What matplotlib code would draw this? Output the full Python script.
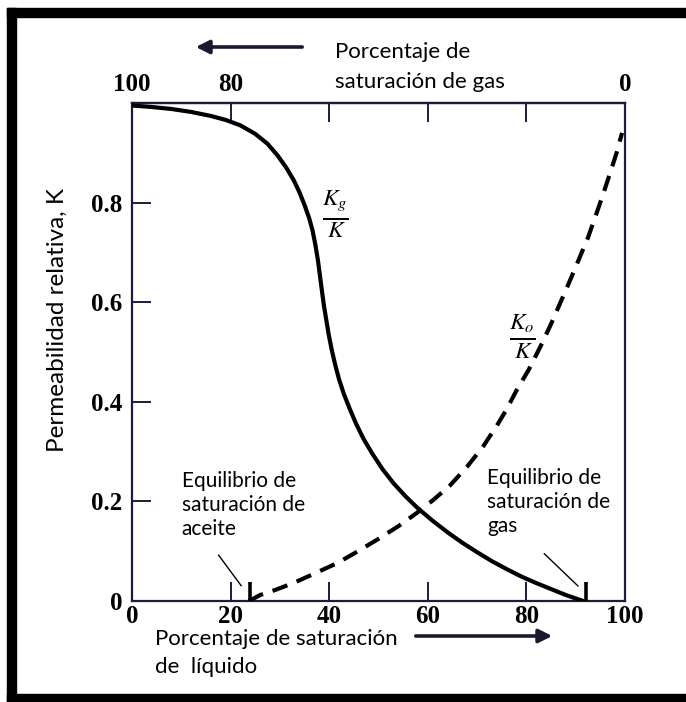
import matplotlib
matplotlib.use("Agg")
import matplotlib.pyplot as plt
from matplotlib.patches import Rectangle, FancyArrowPatch

plt.rcParams["mathtext.fontset"] = "stix"

# ---- data ----
kg_x = [0, 4, 8, 12, 16, 19, 22, 25, 27.5, 29.5, 31.3, 32.8, 34, 35, 35.9, 36.6,
        37.2, 37.7, 38.1, 38.5, 38.9, 39.4, 39.9, 40.5, 41.2, 42, 43, 44.2, 45.5,
        47, 48.8, 50.8, 53, 55.5, 58, 61, 64, 67, 70, 73, 76, 79, 82, 85, 88, 91.5]
kg_y = [0.995, 0.992, 0.988, 0.982, 0.974, 0.966, 0.955, 0.938, 0.918, 0.895,
        0.87, 0.845, 0.82, 0.795, 0.77, 0.745, 0.715, 0.685, 0.655, 0.625, 0.595,
        0.565, 0.535, 0.505, 0.475, 0.445, 0.415, 0.385, 0.355, 0.325, 0.295,
        0.265, 0.237, 0.21, 0.186, 0.161, 0.138, 0.117, 0.098, 0.08, 0.064, 0.049,
        0.036, 0.024, 0.012, 0.0]

ko_x = [23.7, 26, 29, 32.7, 37, 41.6, 45.5, 49.7, 54, 57.8, 61, 64.5, 68, 71.2,
        74, 76, 78, 80.5, 82.8, 84.8, 86.8, 88.9, 90.9, 92.5, 94, 95.5, 97, 98.3,
        99.4]
ko_y = [0.0, 0.012, 0.022, 0.036, 0.055, 0.076, 0.098, 0.123, 0.150, 0.177, 0.202,
        0.232, 0.27, 0.31, 0.352, 0.385, 0.423, 0.465, 0.51, 0.552, 0.597, 0.645,
        0.692, 0.73, 0.772, 0.815, 0.86, 0.9, 0.94]

equil_x = [24, 92]          # equilibrium saturation marks
equil_h = 0.038

bottom_ticks = [0, 20, 40, 60, 80, 100]
bottom_labels = ["0", "20", "40", "60", "80", "100"]
top_ticks = [100, 80, 60, 40, 20, 0]
top_labels = ["100", "80", "", "", "", "0"]
y_ticks = [0, 0.2, 0.4, 0.6, 0.8]
y_labels = ["0", "0.2", "0.4", "0.6", "0.8"]

W, H = 686, 702
fig = plt.figure(figsize=(W / 100, H / 100), dpi=100)
fig.patch.set_facecolor("white")

SANS = ["Lato", "DejaVu Sans"]
SERIF = ["Liberation Serif", "DejaVu Serif"]
spine_c = "#1f1a3d"

def fx(px):
    return px / W

def fy(py):
    return 1 - py / H

# black frame (scanned border)
for (x0, y0, x1, y1) in [(7, 8, 686, 17), (7, 8, 16, 702), (7, 694, 686, 702)]:
    fig.patches.append(Rectangle((fx(x0), fy(y1)), fx(x1) - fx(x0), fy(y0) - fy(y1),
                                 transform=fig.transFigure, color="black", zorder=0))

ax = fig.add_axes([fx(132), fy(601), fx(625) - fx(132), fy(103) - fy(601)])
ax.set_xlim(0, 100)
ax.set_ylim(0, 1.0)

ax.plot(kg_x, kg_y, color="black", lw=3.0, solid_capstyle="round",
        solid_joinstyle="round", zorder=3)
ax.plot(ko_x, ko_y, color="black", lw=3.0, dashes=(3.8, 2.4), zorder=3)
ax.vlines(equil_x, 0, equil_h, color="black", lw=2.6, zorder=3)

for s in ax.spines.values():
    s.set_color(spine_c)
    s.set_linewidth(1.6)

ax.set_xticks(bottom_ticks)
ax.set_xticklabels(bottom_labels)
ax.set_yticks(y_ticks)
ax.set_yticklabels(y_labels)
ax.tick_params(direction="in", length=14, width=1.4, color=spine_c, pad=3,
               labelsize=18)
ax.tick_params(axis="y", pad=7)
for lab in ax.get_xticklabels() + ax.get_yticklabels():
    lab.set_fontfamily(SERIF)
    lab.set_fontweight("bold")

sec = ax.secondary_xaxis("top", functions=(lambda v: 100 - v, lambda v: 100 - v))
sec.set_xticks(top_ticks)
sec.set_xticklabels(top_labels)
sec.tick_params(direction="in", length=14, width=1.4, color=spine_c, pad=5,
                labelsize=18)
sec.spines["top"].set_color(spine_c)
sec.spines["top"].set_linewidth(1.6)
for lab in sec.get_xticklabels():
    lab.set_fontfamily(SERIF)
    lab.set_fontweight("bold")

# curve labels
ax.text(41.2, 0.777, r"$\frac{K_g}{K}$", fontsize=24, ha="center", va="center")
ax.text(79.1, 0.531, r"$\frac{K_o}{K}$", fontsize=24, ha="center", va="center")

# annotations
ax.text(10.1, 0.262, "Equilibrio de\nsaturación de\naceite", ha="left", va="top",
        fontsize=15, family=SANS, linespacing=1.25)
ax.text(72.0, 0.268, "Equilibrio de\nsaturación de\ngas", ha="left", va="top",
        fontsize=15, family=SANS, linespacing=1.25)
ax.annotate("", xy=(22.5, 0.026), xytext=(17.2, 0.097),
            arrowprops=dict(arrowstyle="-", color="black", lw=1.0))
ax.annotate("", xy=(90.9, 0.026), xytext=(83.2, 0.099),
            arrowprops=dict(arrowstyle="-", color="black", lw=1.0))

# axis titles
fig.text(fx(57), fy(320), "Permeabilidad relativa, K", rotation=90, ha="center",
         va="center", fontsize=17.5, family=SANS)
fig.text(fx(335), fy(52), "Porcentaje de", ha="left", va="center", fontsize=16,
         family=SANS)
fig.text(fx(335), fy(82), "saturación de gas", ha="left", va="center",
         fontsize=16, family=SANS)
fig.text(fx(155), fy(639), "Porcentaje de saturación", ha="left", va="center",
         fontsize=16, family=SANS)
fig.text(fx(155), fy(667), "de  líquido", ha="left", va="center", fontsize=16,
         family=SANS)

# direction arrows
fig.patches.append(FancyArrowPatch(
    (fx(305), fy(47)), (fx(193), fy(47)), transform=fig.transFigure,
    arrowstyle="-|>,head_length=8,head_width=4", color="#1a1a2e", lw=2.6,
    mutation_scale=1))
fig.patches.append(FancyArrowPatch(
    (fx(413), fy(636)), (fx(555), fy(636)), transform=fig.transFigure,
    arrowstyle="-|>,head_length=8,head_width=4", color="#1a1a2e", lw=2.6,
    mutation_scale=1))

fig.savefig("out.png", dpi=100)
